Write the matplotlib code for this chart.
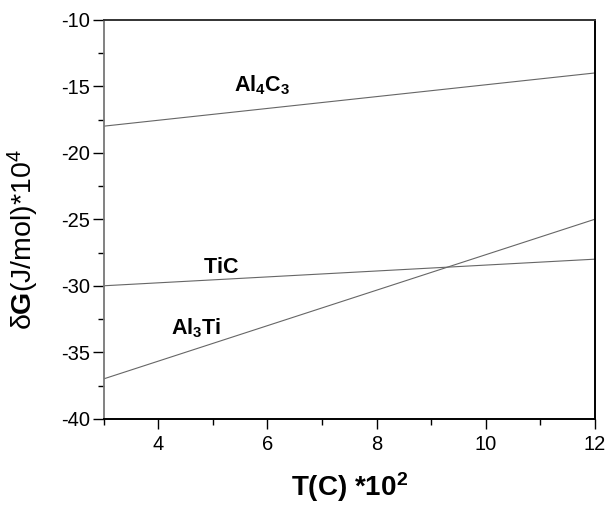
import matplotlib
matplotlib.use("Agg")
import matplotlib.pyplot as plt
from matplotlib.ticker import MultipleLocator

plt.rcParams['font.family'] = ['Liberation Sans', 'DejaVu Sans']
plt.rcParams['axes.unicode_minus'] = False
plt.rcParams['mathtext.fontset'] = 'custom'
plt.rcParams['mathtext.rm'] = 'Liberation Sans'
plt.rcParams['mathtext.bf'] = 'Liberation Sans:bold'
plt.rcParams['mathtext.it'] = 'Liberation Sans:italic'
plt.rcParams['mathtext.sf'] = 'Liberation Sans:bold'

# Data: temperature (x 10^2 C) and Gibbs free energy (x 10^4 J/mol)
temps = [3, 12]
al4c3 = [-18, -14]
tic = [-30, -28]
al3ti = [-37, -25]

labels = [r'$\mathsf{Al_4C_3}$', r'$\mathsf{TiC}$', r'$\mathsf{Al_3Ti}$']
label_x = [5.9, 5.15, 4.7]
label_y = [-14.9, -28.6, -33.2]

fig = plt.figure(figsize=(6.10, 5.07), dpi=100)
ax = fig.add_axes([0.170, 0.174, 0.805, 0.787])

for series in (al4c3, tic, al3ti):
    ax.plot(temps, series, color='#666666', lw=0.8)

for t, x, y in zip(labels, label_x, label_y):
    ax.text(x, y, t, fontsize=15.5, ha='center', va='center')

ax.set_xlim(3, 12)
ax.set_ylim(-40, -10)
ax.xaxis.set_major_locator(MultipleLocator(2))
ax.xaxis.set_minor_locator(MultipleLocator(1))
ax.yaxis.set_major_locator(MultipleLocator(5))
ax.yaxis.set_minor_locator(MultipleLocator(2.5))
ax.tick_params(which='major', direction='out', length=7, width=1, labelsize=14.5)
ax.tick_params(which='minor', direction='out', length=4, width=1)
ax.tick_params(axis='y', which='major', length=8, pad=2)
ax.tick_params(axis='x', which='major', pad=4.5)

for s in ['right', 'bottom']:
    ax.spines[s].set_linewidth(1.4)
    ax.spines[s].set_color('black')
ax.spines['top'].set_linewidth(1.4)
ax.spines['top'].set_color('#333333')
ax.spines['left'].set_linewidth(1.3)
ax.spines['left'].set_color('#777777')

ax.set_xlabel(r'$\mathsf{T(C)\ {*}10^2}$', fontsize=20)
ax.xaxis.set_label_coords(0.5, -0.13)
ax.set_ylabel(r'$\mathrm{\delta}\mathbf{G}\mathrm{(J/mol){*}10^4}$', fontsize=20.5)
ax.yaxis.set_label_coords(-0.127, 0.449)

fig.savefig('out.png', dpi=100)
